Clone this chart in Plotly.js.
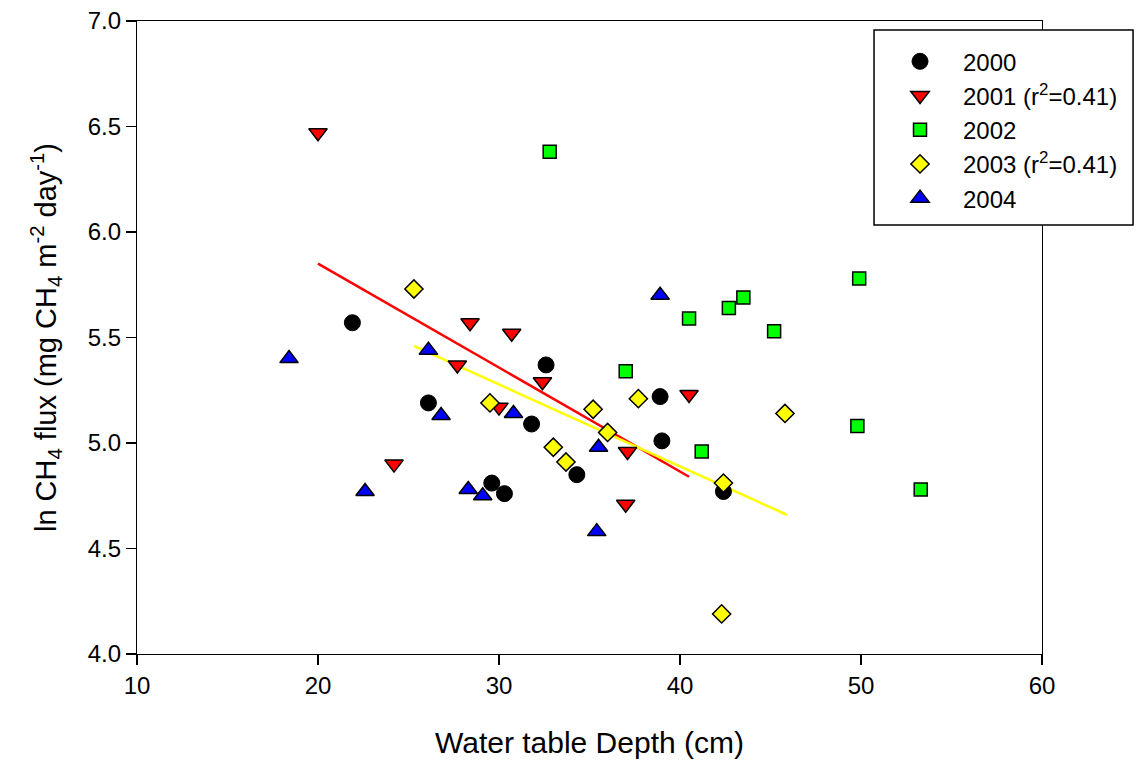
<!DOCTYPE html>
<html>
<head>
<meta charset="utf-8">
<script src="https://cdn.plot.ly/plotly-3.0.1.min.js"></script>
<style>html,body{margin:0;padding:0;background:#fff;}#chart{width:1143px;height:765px;}</style>
</head>
<body>
<div id="chart"></div>
<script>
// Water table depth (cm) and ln CH4 flux, by year
var x2000 = [21.9, 26.1, 32.6, 31.8, 29.6, 30.3, 34.3, 38.9, 39.0, 42.4];
var y2000 = [5.57, 5.19, 5.37, 5.09, 4.81, 4.76, 4.85, 5.22, 5.01, 4.77];

var x2001 = [20.0, 24.2, 27.7, 28.4, 30.7, 32.4, 30.0, 37.1, 40.5, 37.0];
var y2001 = [6.47, 4.90, 5.37, 5.57, 5.52, 5.29, 5.17, 4.96, 5.23, 4.71];

var x2002 = [32.8, 49.9, 43.5, 42.7, 40.5, 45.2, 49.8, 41.2, 53.3, 37.0];
var y2002 = [6.38, 5.78, 5.69, 5.64, 5.59, 5.53, 5.08, 4.96, 4.78, 5.34];

var x2003 = [25.3, 29.5, 35.2, 37.7, 36.0, 33.0, 33.7, 42.4, 42.3, 45.8];
var y2003 = [5.73, 5.19, 5.16, 5.21, 5.05, 4.98, 4.91, 4.81, 4.19, 5.14];

var x2004 = [18.4, 26.1, 26.8, 22.6, 30.8, 28.3, 29.1, 35.5, 35.4, 38.9];
var y2004 = [5.40, 5.44, 5.13, 4.77, 5.14, 4.78, 4.75, 4.98, 4.58, 5.70];

// Regression lines (end points)
var fit2001X = [20.0, 40.5];
var fit2001Y = [5.85, 4.84];
var fit2003X = [25.3, 45.9];
var fit2003Y = [5.46, 4.66];

var names = ["2000", "2001 (r<sup>2</sup>=0.41)", "2002", "2003 (r<sup>2</sup>=0.41)", "2004"];
var xTicks = [10, 20, 30, 40, 50, 60];
var yTicks = [4.0, 4.5, 5.0, 5.5, 6.0, 6.5, 7.0];

var FONT = "Liberation Sans, Arial, sans-serif";

var traces = [
  {x: fit2001X, y: fit2001Y, mode: "lines", line: {color: "#ff0000", width: 2.5}, showlegend: false, hoverinfo: "skip"},
  {x: fit2003X, y: fit2003Y, mode: "lines", line: {color: "#ffff00", width: 2.5}, showlegend: false, hoverinfo: "skip"},
  {x: x2000, y: y2000, mode: "markers", name: names[0], legendrank: 1,
   marker: {symbol: "circle", size: 16, color: "#000000", line: {color: "#000000", width: 1}}},
  {x: x2001, y: y2001, mode: "markers", name: names[1], legendrank: 2,
   marker: {symbol: "triangle-down", size: 16, color: "#ff0000", line: {color: "#000000", width: 1.5}}},
  {x: x2002, y: y2002, mode: "markers", name: names[2], legendrank: 3,
   marker: {symbol: "square", size: 13, color: "#00ff00", line: {color: "#000000", width: 1.5}}},
  {x: x2004, y: y2004, mode: "markers", name: names[4], legendrank: 5,
   marker: {symbol: "triangle-up", size: 16, color: "#0000ff", line: {color: "#000000", width: 1.5}}},
  {x: x2003, y: y2003, mode: "markers", name: names[3], legendrank: 4,
   marker: {symbol: "diamond", size: 14, color: "#ffff00", line: {color: "#000000", width: 1.5}}}
];

var layout = {
  width: 1143, height: 765,
  paper_bgcolor: "#ffffff", plot_bgcolor: "#ffffff",
  margin: {l: 137, r: 101, t: 21, b: 111, autoexpand: false},
  font: {family: FONT, size: 24, color: "#000000"},
  showlegend: true,
  legend: {
    traceorder: "normal",
    x: 0.8177, xref: "paper", xanchor: "left",
    y: 0.9712, yanchor: "top",
    bgcolor: "rgba(0,0,0,0)", borderwidth: 0,
    font: {family: FONT, size: 24, color: "#000000"},
    itemwidth: 76
  },
  shapes: [
    {type: "rect", xref: "paper", yref: "paper", x0: 0.8144, x1: 1.1006, y0: 0.6777, y1: 0.9858,
     fillcolor: "#ffffff", line: {color: "#000000", width: 1.5}, layer: "above"}
  ],
  xaxis: {
    range: [10, 60], tickvals: xTicks, ticktext: xTicks.map(String),
    showgrid: false, zeroline: false,
    showline: true, linecolor: "#000000", linewidth: 1.2, mirror: true,
    ticks: "outside", ticklen: 10, tickwidth: 1.2, tickcolor: "#000000",
    tickfont: {family: FONT, size: 24},
    title: {text: "Water table Depth (cm)", font: {family: FONT, size: 30}, standoff: 34}
  },
  yaxis: {
    range: [4, 7], tickvals: yTicks, ticktext: yTicks.map(function(v){return v.toFixed(1);}),
    showgrid: false, zeroline: false,
    showline: true, linecolor: "#000000", linewidth: 1.2, mirror: true,
    ticks: "outside", ticklen: 10, tickwidth: 1.2, tickcolor: "#000000",
    tickfont: {family: FONT, size: 24},
    title: {text: "ln CH<sub>4</sub> flux (mg CH<sub>4</sub> m<sup>-2</sup> day<sup>-1</sup>)", font: {family: FONT, size: 29}, standoff: 22}
  }
};

Plotly.newPlot("chart", traces, layout, {displayModeBar: false, staticPlot: true});
</script>
</body>
</html>
